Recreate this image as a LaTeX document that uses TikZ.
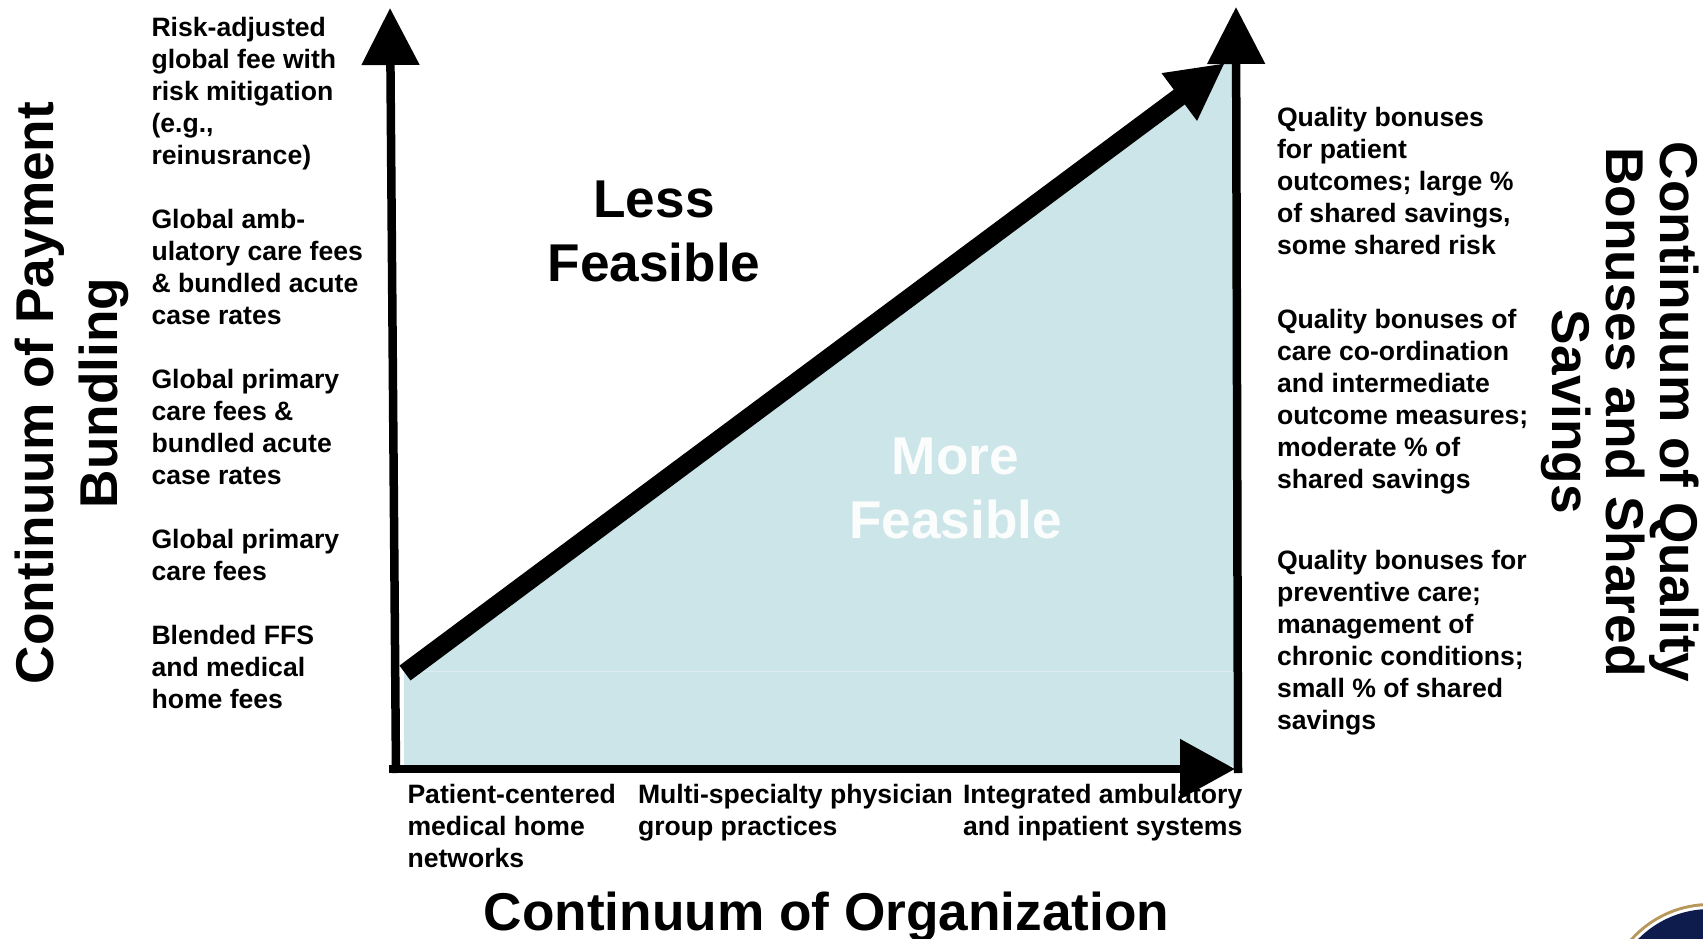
\documentclass[tikz,border=0pt]{standalone}
\usepackage{fontspec}
\setmainfont{Liberation Sans}
\usetikzlibrary{arrows.meta}
\definecolor{feasfill}{HTML}{CBE5E8}
\definecolor{sealgold}{HTML}{B8975A}
\definecolor{sealnavy}{HTML}{0E1B4D}
\tikzset{
  body/.style={anchor=north west,align=left,inner sep=0pt,outer sep=0pt,font=\fontsize{26.6}{32}\selectfont\bfseries},
  big/.style={anchor=center,align=center,inner sep=0pt,outer sep=0pt,font=\fontsize{53.2}{64}\selectfont\bfseries},
  axis/.style={line width=8.5pt,line cap=butt},
}
\begin{document}
\begin{tikzpicture}[x=1pt,y=-1pt]
\useasboundingbox (0,0) rectangle (1703,939);
% seal
\begin{scope}
\clip (0,0) rectangle (1703,939);
\fill[sealgold] (1710,1010) circle (107);
\fill[white] (1710,1010) circle (104);
\fill[sealnavy] (1710,1010) circle (101);
\end{scope}
% coordinates
\coordinate (lb) at (396,773);
\coordinate (lt) at (390,8);
\coordinate (rb) at (1238,773);
\coordinate (rt) at (1236,7);
\coordinate (bl) at (389,769);
\coordinate (br) at (1235,769);
\coordinate (ds) at (405,673);
\coordinate (de) at (1225,63);
\coordinate (fa) at (404,671);
\coordinate (fb) at (1233,671);
% fill
\fill[feasfill] (404,667) -- (1226,62) -- (1233,62) -- (1233,766) -- (404,766) -- cycle;
\draw[draw=white!30!feasfill,line width=1pt] (fa) -- (fb);
% axes
\draw[axis,-{Triangle[length=57pt,width=56pt]}] (lb) -- (lt);
\draw[axis,-{Triangle[length=57pt,width=56pt]}] (rb) -- (rt);
\draw[axis,-{Triangle[length=55pt,width=58pt]}] (bl) -- (br);
\draw[line width=18.5pt,line cap=butt,-{Triangle[length=57pt,width=55pt]}] (ds) -- (de);
% left labels
\node[body] (l1) at (151.5,17.5) {Risk-adjusted\\global fee with\\risk mitigation\\(e.g.,\\reinusrance)};
\node[body] (l2) at (151.5,209.5) {Global amb-\\ulatory care fees\\\& bundled acute\\case rates};
\node[body] (l3) at (151.5,369.5) {Global primary\\care fees \&\\bundled acute\\case rates};
\node[body] (l4) at (151.5,529.5) {Global primary\\care fees};
\node[body] (l5) at (151.5,625.5) {Blended FFS\\and medical\\home fees};
% right labels
\node[body] (r1) at (1277,107.5) {Quality bonuses\\for patient\\outcomes; large \%\\of shared savings,\\some shared risk};
\node[body] (r2) at (1277,309.5) {Quality bonuses of\\care co-ordination\\and intermediate\\outcome measures;\\moderate \% of\\shared savings};
\node[body] (r3) at (1277,550.5) {Quality bonuses for\\preventive care;\\management of\\chronic conditions;\\small \% of shared\\savings};
% bottom labels
\node[body] (b1) at (407.5,784) {Patient-centered\\medical home\\networks};
\node[body] (b2) at (638,784) {Multi-specialty physician\\group practices};
\node[body] (b3) at (963,784) {Integrated ambulatory\\and inpatient systems};
% titles
\node[big] (less) at (654,231) {Less\\Feasible};
\node[big,text=white!92!feasfill] (more) at (955.5,488) {More\\Feasible};
\node[big] (tb) at (826.5,917) {Continuum of Organization};
\node[big,rotate=90] (tl) at (72,393) {Continuum of Payment\\Bundling};
\node[big,rotate=-90,font=\fontsize{53.2}{54}\selectfont\bfseries] (tr) at (1620,412) {Continuum of Quality\\Bonuses and Shared\\Savings};
\end{tikzpicture}
\end{document}
